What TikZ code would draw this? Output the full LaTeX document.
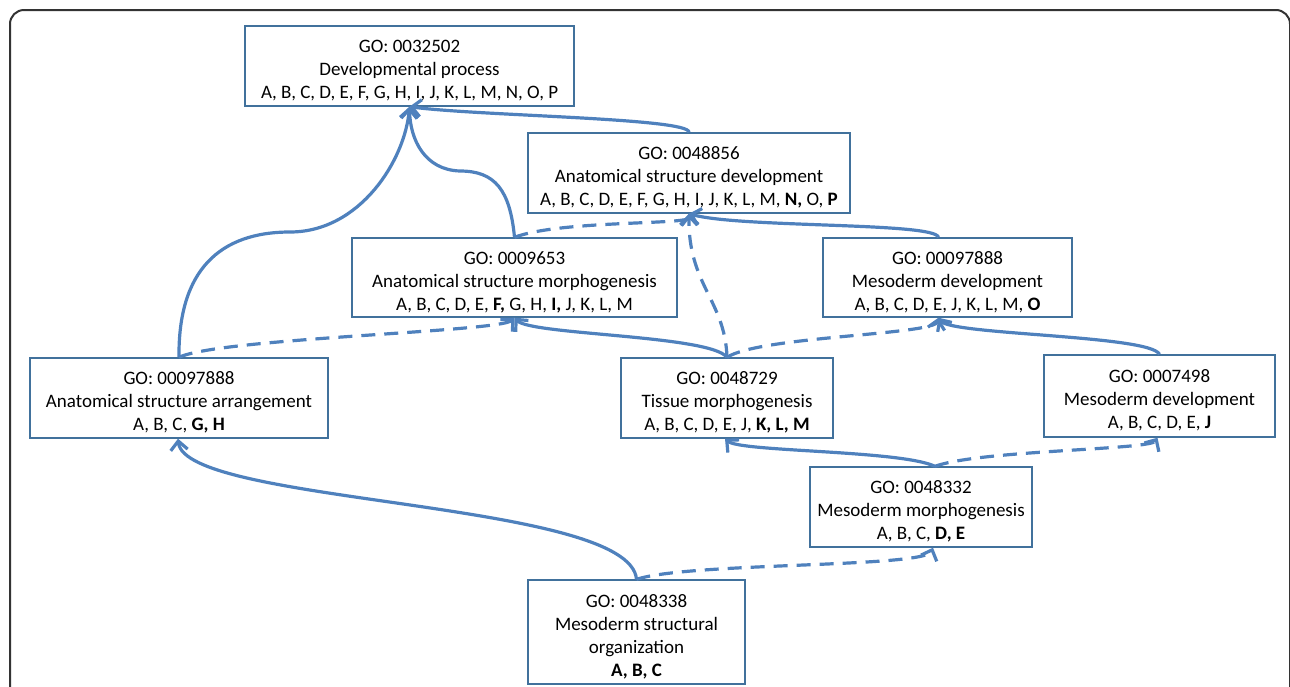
\documentclass[tikz,border=0pt]{standalone}
\usepackage{fontspec}
\setmainfont{Carlito}
\usetikzlibrary{arrows.meta}
\definecolor{linkblue}{HTML}{4F81BD}
\definecolor{boxblue}{HTML}{41719C}
\newcommand{\gostrut}{\rule{0pt}{22pt}}
\tikzset{
  gobox/.style={draw=boxblue, line width=1.4pt, fill=white, align=center,
    inner sep=2pt, font=\fontsize{19}{23}\selectfont},
  isa/.style={linkblue, line width=3.2pt, -{Straight Barb[length=9pt,width=17pt]}},
  partof/.style={isa, dash pattern=on 14pt off 9pt}
}

\begin{document}
\begin{tikzpicture}[x=1pt,y=-1pt]
\clip (0,0) rectangle (1290,686);
\draw[line width=2pt, black!80, rounded corners=14pt] (10,10) rectangle (1290,760);
% GO terms
\node[gobox, minimum width=329, minimum height=80] (devproc) at (409.5,66)
  {\gostrut GO: 0032502\\Developmental process\\A, B, C, D, E, F, G, H, I, J, K, L, M, N, O, P};
\node[gobox, minimum width=322, minimum height=80] (anatdev) at (689,173)
  {\gostrut GO: 0048856\\Anatomical structure development\\A, B, C, D, E, F, G, H, I, J, K, L, M, \textbf{N,} O, \textbf{P}};
\node[gobox, minimum width=325, minimum height=79] (anatmorph) at (514.5,277.5)
  {\gostrut GO: 0009653\\Anatomical structure morphogenesis\\A, B, C, D, E, \textbf{F,} G, H, \textbf{I,} J, K, L, M};
\node[gobox, minimum width=249, minimum height=79] (mesodev) at (947.5,277.5)
  {\gostrut GO: 00097888\\Mesoderm development\\A, B, C, D, E, J, K, L, M, \textbf{O}};
\node[gobox, minimum width=298, minimum height=80] (anatarr) at (179,398)
  {\gostrut GO: 00097888\\Anatomical structure arrangement\\A, B, C, \textbf{G, H}};
\node[gobox, minimum width=212, minimum height=80] (tissmorph) at (727,398)
  {\gostrut GO: 0048729\\Tissue morphogenesis\\A, B, C, D, E, J, \textbf{K, L, M}};
\node[gobox, minimum width=231, minimum height=82] (mesodevb) at (1159.5,396)
  {\gostrut GO: 0007498\\Mesoderm development\\A, B, C, D, E, \textbf{J}};
\node[gobox, minimum width=222, minimum height=80] (mesomorph) at (921,507)
  {\gostrut GO: 0048332\\Mesoderm morphogenesis\\A, B, C, \textbf{D, E}};
\node[gobox, minimum width=217, minimum height=104] (mesoorg) at (636.5,632)
  {\gostrut GO: 0048338\\Mesoderm structural\\organization\\\textbf{A, B, C}};
% links
\draw[isa] (anatdev.north) .. controls (690,118) and (480,116) .. (devproc.south);
\draw[isa] (anatmorph.north) .. controls (510,190) and (495,171) .. (460,171)
  .. controls (425,170) and (410,140) .. (devproc.south);
\draw[isa] (anatarr.north) .. controls (178,270) and (220,232) .. (290,232)
  .. controls (360,232) and (405,160) .. (devproc.south);
\draw[partof] (anatmorph.north) .. controls (560,220) and (690,225) .. (anatdev.south);
\draw[isa] ([xshift=-9]mesodev.north) .. controls (935,222) and (740,228) .. (anatdev.south);
\draw[partof] (tissmorph.north) .. controls (725,300) and (688,285) .. (anatdev.south);
\draw[partof] (anatarr.north) .. controls (220,338) and (500,332) .. (anatmorph.south);
\draw[isa] (tissmorph.north) .. controls (710,335) and (530,335) .. (anatmorph.south);
\draw[partof] (tissmorph.north) .. controls (760,336) and (935,335) .. ([xshift=-9]mesodev.south);
\draw[isa] (mesodevb.north) .. controls (1150,335) and (950,335) .. ([xshift=-9]mesodev.south);
\draw[isa] ([xshift=14]mesomorph.north) .. controls (900,450) and (740,452) .. ([xshift=-2]tissmorph.south);
\draw[partof] ([xshift=14]mesomorph.north) .. controls (980,450) and (1150,450) .. ([xshift=-2]mesodevb.south);
\draw[partof] (mesoorg.north) .. controls (690,562) and (925,568) .. ([xshift=12]mesomorph.south);
\draw[isa] (mesoorg.north) .. controls (630,500) and (185,505) .. ([xshift=-1]anatarr.south);
\end{tikzpicture}
\end{document}
